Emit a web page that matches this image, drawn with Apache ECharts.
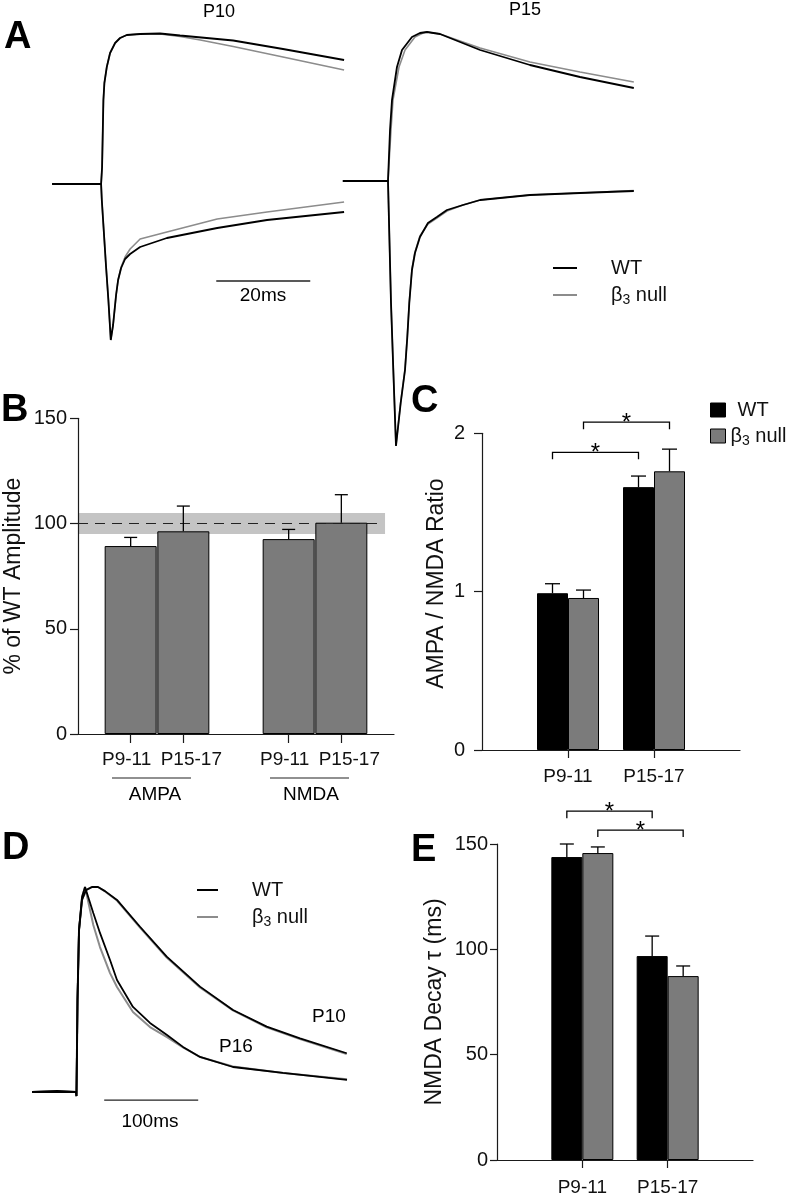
<!DOCTYPE html>
<html><head><meta charset="utf-8">
<script src="https://cdn.jsdelivr.net/npm/echarts@6/dist/echarts.min.js"></script>
<style>html,body{margin:0;padding:0;background:#fff}#chart{width:792px;height:1199px}</style>
</head><body><div id="chart"></div>
<script>
// ================= DATA =================
const ages = ['P9-11', 'P15-17'];
const receptors = ['AMPA', 'NMDA'];
const genotypes = ['WT', 'β3 null'];

// Panel A – example EPSC traces (time ms, current pA)
const p10UpperWT   = [[-10.4,0],[0,0],[0.21,34],[0.49,168],[0.7,202],[1.21,234],[1.91,262],[2.98,282],[4.04,292],[5.47,298],[8.3,300],[12.55,301],[16.8,297],[28.1,287],[38.7,270],[51.7,248]];
const p10UpperNull = [[-10.4,0],[0,0],[0.21,34],[0.49,168],[0.7,202],[1.21,234],[1.91,262],[2.98,282],[4.04,292],[5.47,298],[8.3,300],[12.55,300],[16.8,295],[21.1,288],[28.1,275],[38.7,254],[51.7,228]];
const p10LowerWT   = [[-10.4,0],[0,0],[0.15,-32],[1.06,-166],[1.55,-232],[2.06,-312],[2.55,-282],[3.19,-222],[3.62,-192],[4.26,-168],[5.1,-150],[6.17,-140],[8.3,-126],[14.0,-108],[24.7,-88],[35.3,-72],[51.7,-56]];
const p10LowerNull = [[-10.4,0],[0,0],[0.15,-32],[1.06,-166],[1.55,-232],[2.06,-312],[2.55,-282],[3.19,-222],[3.62,-192],[4.26,-166],[5.1,-146],[6.17,-130],[8.3,-110],[14.0,-96],[24.7,-70],[35.3,-56],[51.7,-36]];
const p15UpperWT   = [[-9.6,0],[0,0],[0.43,102],[0.85,162],[1.91,228],[2.98,262],[5.1,288],[6.8,296],[8.3,298],[11.06,294],[19.6,262],[30.2,232],[40.85,208],[52.3,186]];
const p15UpperNull = [[-9.6,0],[0,0],[0.64,102],[1.06,162],[2.34,228],[3.62,262],[5.74,288],[7.45,296],[8.3,298],[11.06,294],[19.6,266],[30.2,238],[40.85,218],[52.3,198]];
const p15LowerWT   = [[-9.6,0],[0,0],[0.64,-244],[1.13,-378],[1.7,-530],[2.7,-444],[3.62,-378],[4.11,-312],[4.53,-244],[5.1,-178],[5.74,-144],[6.8,-112],[8.5,-84],[10.4,-72],[12.55,-58],[15.96,-48],[19.6,-38],[30.2,-28],[40.85,-24],[52.3,-20]];
const p15LowerNull = [[-9.6,0],[0,0],[0.64,-244],[1.13,-378],[1.7,-528],[2.7,-442],[3.62,-376],[4.11,-310],[4.53,-242],[5.1,-176],[5.74,-142],[6.8,-110],[8.5,-86],[10.4,-74],[12.55,-60],[15.96,-48],[19.6,-38],[30.2,-28],[40.85,-24],[52.3,-19]];

// Panel B – β3 null amplitude as % of WT (AMPA P9-11, AMPA P15-17, NMDA P9-11, NMDA P15-17)
const ampPct    = [89.3, 96.3, 92.6, 100.4];
const ampPctSem = [4.1, 12.0, 4.6, 13.3];
const wtBand = [95, 105];
const wtRef = 100;

// Panel C – AMPA / NMDA ratio
const ratioWT      = [0.99, 1.66];
const ratioWTSem   = [0.06, 0.07];
const ratioNull    = [0.96, 1.76];
const ratioNullSem = [0.05, 0.14];
const sigC = [{from:0, to:1, genotype:0, level:1.88}, {from:0, to:1, genotype:1, level:2.07}];

// Panel D – normalised NMDA EPSCs (time ms, normalised amplitude)
const dP10WT   = [[-46.8,0],[-20,0.005],[0,0],[0.5,-0.02],[1.6,0.449],[3.2,0.79],[6.4,0.937],[10.6,0.985],[17,1.0],[23.4,1.0],[30.9,0.98],[43.6,0.937],[68.1,0.806],[96.5,0.66],[131.9,0.514],[167,0.4],[202.9,0.319],[238.3,0.262],[288,0.189]];
const dP10Null = [[-46.8,0],[-20,0.005],[0,0],[0.5,-0.02],[1.6,0.449],[3.2,0.79],[6.4,0.937],[10.6,0.985],[17,1.0],[23.4,1.0],[30.9,0.978],[43.6,0.934],[68.1,0.802],[96.5,0.656],[131.9,0.51],[167,0.398],[202.9,0.315],[238.3,0.258],[288,0.185]];
const dP16WT   = [[-46.8,0],[0,0],[0.5,-0.02],[1.6,0.449],[3.2,0.79],[6.4,0.951],[9.6,1.0],[18.4,0.873],[25.5,0.776],[36.2,0.644],[43.6,0.546],[60.6,0.415],[78.7,0.337],[96.8,0.278],[113.8,0.22],[131.9,0.171],[167,0.122],[220.2,0.093],[288.3,0.059]];
const dP16Null = [[-46.8,0],[0,0],[0.5,-0.02],[1.6,0.449],[3.2,0.79],[6.4,0.951],[9.6,1.0],[18.4,0.815],[25.5,0.707],[36.2,0.58],[43.6,0.512],[60.6,0.39],[78.7,0.317],[96.8,0.268],[113.8,0.218],[131.9,0.171],[167,0.124],[220.2,0.093],[288.3,0.062]];

// Panel E – NMDA decay tau (ms)
const tauWT      = [143.8, 96.8];
const tauWTSem   = [6.2, 9.5];
const tauNull    = [145.7, 87.3];
const tauNullSem = [2.9, 4.8];
const sigE = [{from:0, to:1, genotype:0, level:165.6}, {from:0, to:1, genotype:1, level:156.6}];

// scale bars (ms)
const scaleA = 20, scaleD = 100;

// ================= STYLE / BUILD =================
const FF = '"Liberation Sans", Arial, Helvetica, sans-serif';
const BLACK = '#000000', GREY_LINE = '#8c8c8c', GREY_BAR = '#7b7b7b', BAND = '#c4c4c4', AX = '#1a1a1a';

const chart = echarts.init(document.getElementById('chart'), null, {renderer: 'canvas'});

const pos = (g, a) => g * 3 + a + 1;              // B: x position for receptor g / age a
const bPos = ampPct.map((_, i) => pos(Math.floor(i / 2), i % 2));
const cPos = ages.map((_, i) => i + 1);

function hiddenAxes(grid, xmin, xmax, ymin, ymax) {
  return [
    {gridIndex: grid, type: 'value', min: xmin, max: xmax, show: false},
    {gridIndex: grid, type: 'value', min: ymin, max: ymax, show: false}
  ];
}
const axLine = {show: true, onZero: false, lineStyle: {color: AX, width: 1.2}};
const tickLbl = (fs, margin) => ({fontSize: fs, fontFamily: FF, color: '#111', margin: margin, interval: 0, hideOverlap: false});

const [ax0x, ax0y] = hiddenAxes(0, -13, 55, -560, 320);
const [ax1x, ax1y] = hiddenAxes(1, -13, 55, -560, 320);
const [ax4x, ax4y] = hiddenAxes(4, -50, 300, -0.2, 1.1);

const xAxes = [
  ax0x, ax1x,
  {gridIndex: 2, type: 'value', min: 0, max: 6, axisLine: axLine, splitLine: {show: false},
   axisTick: {show: true, customValues: bPos, length: 9, lineStyle: {color: AX, width: 1.2}},
   axisLabel: Object.assign(tickLbl(19, 16), {customValues: bPos,
     formatter: v => { const a = (Math.round(v) - 1) % 3; return '{a' + a + '|' + ages[a] + '}'; },
     rich: {a0: {fontSize: 19, fontFamily: FF, color: '#111', padding: [0, 8, 0, 0]},
            a1: {fontSize: 19, fontFamily: FF, color: '#111', padding: [0, 0, 0, 16]}}})},
  {gridIndex: 3, type: 'value', min: 0, max: 3, axisLine: axLine, splitLine: {show: false},
   axisTick: {show: true, customValues: cPos, length: 8, lineStyle: {color: AX, width: 1.2}},
   axisLabel: Object.assign(tickLbl(19, 17), {customValues: cPos, formatter: v => ages[Math.round(v) - 1]})},
  ax4x,
  {gridIndex: 5, type: 'value', min: 0, max: 3, axisLine: axLine, splitLine: {show: false},
   axisTick: {show: true, customValues: cPos, length: 8, lineStyle: {color: AX, width: 1.2}},
   axisLabel: Object.assign(tickLbl(19, 18), {customValues: cPos, formatter: v => ages[Math.round(v) - 1]})}
];
const nameStyle = {fontSize: 23, fontFamily: FF, color: '#111'};
const yAxes = [
  ax0y, ax1y,
  {gridIndex: 2, type: 'value', min: 0, max: 150, interval: 50, axisLine: axLine, splitLine: {show: false},
   axisTick: {show: true, length: 8, lineStyle: {color: AX, width: 1.2}}, axisLabel: tickLbl(20, 11),
   name: '% of WT Amplitude', nameLocation: 'middle', nameGap: 53, nameTextStyle: nameStyle},
  {gridIndex: 3, type: 'value', min: 0, max: 2, interval: 1, axisLine: axLine, splitLine: {show: false},
   axisTick: {show: true, length: 8, lineStyle: {color: AX, width: 1.2}}, axisLabel: tickLbl(20, 17),
   name: 'AMPA / NMDA Ratio', nameLocation: 'middle', nameGap: 34,
   nameTextStyle: Object.assign({}, nameStyle, {padding: [0, 0, 0, 16]})},
  ax4y,
  {gridIndex: 5, type: 'value', min: 0, max: 150, interval: 50, axisLine: axLine, splitLine: {show: false},
   axisTick: {show: true, length: 7, lineStyle: {color: AX, width: 1.2}}, axisLabel: tickLbl(20, 9),
   name: 'NMDA Decay τ (ms)', nameLocation: 'middle', nameGap: 51, nameTextStyle: nameStyle}
];

function trace(name, grid, data, color, w, z) {
  return {type: 'line', name: name, xAxisIndex: grid, yAxisIndex: grid, data: data, showSymbol: false,
          symbol: 'none', lineStyle: {color: color, width: w}, itemStyle: {color: color}, z: z, silent: true, animation: false};
}
function scaleBar(grid, x0, len, y) {
  return {type: 'line', name: 'scale', xAxisIndex: grid, yAxisIndex: grid, data: [[x0, y], [x0 + len, y]],
          showSymbol: false, symbol: 'none', lineStyle: {color: '#222', width: 1.3}, silent: true, animation: false};
}
function errSeries(grid, xs, vals, sems, offsetPx, capHalf) {
  return {type: 'custom', xAxisIndex: grid, yAxisIndex: grid, z: 4, silent: true, animation: false,
    encode: {x: 0, y: 1},
    data: vals.map((v, i) => [xs[i], v, sems[i]]),
    renderItem: (params, api) => {
      const x = api.value(0), v = api.value(1), e = api.value(2);
      const p0 = api.coord([x, v]), p1 = api.coord([x, v + e]);
      const cx = p0[0] + offsetPx;
      return {type: 'group', children: [
        {type: 'line', shape: {x1: cx, y1: p0[1], x2: cx, y2: p1[1]}, style: {stroke: '#000', lineWidth: 1.3}},
        {type: 'line', shape: {x1: cx - capHalf, y1: p1[1], x2: cx + capHalf, y2: p1[1]}, style: {stroke: '#000', lineWidth: 1.3}}
      ]};
    }};
}
function bracketSeries(grid, sig, halfBar, drop) {
  return {type: 'custom', xAxisIndex: grid, yAxisIndex: grid, z: 4, silent: true, animation: false, clip: false,
    encode: {x: 0, y: 3},
    data: sig.map(s => [s.from + 1, s.to + 1, s.genotype === 0 ? -1 : 1, s.level]),
    renderItem: (params, api) => {
      const a = api.coord([api.value(0), api.value(3)]), b = api.coord([api.value(1), api.value(3)]);
      const off = api.value(2) * halfBar;
      const x1 = a[0] + off, x2 = b[0] + off, y = a[1];
      return {type: 'group', children: [
        {type: 'polyline', shape: {points: [[x1, y + drop], [x1, y], [x2, y], [x2, y + drop]]}, style: {stroke: '#000', lineWidth: 1.3, fill: null}},
        {type: 'text', x: (x1 + x2) / 2, y: y + 1, style: {text: '*', fontSize: 24, fontFamily: FF, fill: '#000', align: 'center', verticalAlign: 'middle'}}
      ]};
    }};
}
function groupBars(name, grid, xs, vals, color) {
  return {type: 'bar', name: name, xAxisIndex: grid, yAxisIndex: grid, data: vals.map((v, i) => [xs[i], v]),
          barWidth: 31, barGap: '0%', itemStyle: {color: color, borderColor: '#000', borderWidth: 1}, z: 2, silent: true, animation: false};
}

const series = [
  // A – P10
  trace('β3 null', 0, p10UpperNull, GREY_LINE, 1.6, 2), trace('β3 null', 0, p10LowerNull, GREY_LINE, 1.6, 2),
  trace('WT', 0, p10UpperWT, BLACK, 1.8, 3), trace('WT', 0, p10LowerWT, BLACK, 1.8, 3),
  scaleBar(0, 24.5, scaleA, -194),
  // A – P15
  trace('β3 null', 1, p15UpperNull, GREY_LINE, 1.6, 2), trace('β3 null', 1, p15LowerNull, GREY_LINE, 1.6, 2),
  trace('WT', 1, p15UpperWT, BLACK, 1.8, 3), trace('WT', 1, p15LowerWT, BLACK, 1.8, 3),
  // B
  {type: 'bar', name: '% of WT', xAxisIndex: 2, yAxisIndex: 2, data: ampPct.map((v, i) => [bPos[i], v]),
   barWidth: 52, itemStyle: {color: GREY_BAR, borderColor: '#000', borderWidth: 1}, z: 2, silent: true, animation: false,
   markArea: {silent: true, z: 0, itemStyle: {color: BAND, opacity: 1}, data: [[{coord: [0, wtBand[0]]}, {coord: [5.83, wtBand[1]]}]]},
   markLine: {silent: true, z: 1, symbol: 'none', label: {show: false}, lineStyle: {color: '#222', type: [10, 7], width: 1.2},
              data: [[{coord: [0, wtRef]}, {coord: [5.8, wtRef]}]]}},
  errSeries(2, bPos, ampPct, ampPctSem, 0, 6.5),
  // C
  groupBars('WT', 3, cPos, ratioWT, BLACK), groupBars('β3 null', 3, cPos, ratioNull, GREY_BAR),
  errSeries(3, cPos, ratioWT, ratioWTSem, -15.5, 7.5), errSeries(3, cPos, ratioNull, ratioNullSem, 15.5, 7.5),
  bracketSeries(3, sigC, 15.5, 7),
  // D
  trace('β3 null', 4, dP10Null, GREY_LINE, 2.0, 2), trace('β3 null', 4, dP16Null, GREY_LINE, 2.0, 2),
  trace('WT', 4, dP10WT, BLACK, 1.8, 3), trace('WT', 4, dP16WT, BLACK, 1.8, 3),
  scaleBar(4, 30, scaleD, -0.04),
  // E
  groupBars('WT', 5, cPos, tauWT, BLACK), groupBars('β3 null', 5, cPos, tauNull, GREY_BAR),
  errSeries(5, cPos, tauWT, tauWTSem, -15.5, 7), errSeries(5, cPos, tauNull, tauNullSem, 15.5, 7),
  bracketSeries(5, sigE, 15.5, 7)
];

const legendRich = {n: {fontSize: 20, fontFamily: FF, color: '#111', lineHeight: 24},
                    s: {fontSize: 14, fontFamily: FF, color: '#111', lineHeight: 10, verticalAlign: 'bottom'}};
const legendFmt = name => name === genotypes[1] ? '{n|β}{s|3}{n| null}' : '{n|' + name + '}';
function lineLegend(left, top, w, gap) {
  return {orient: 'vertical', left: left, top: top, padding: 0, itemWidth: w, itemHeight: 2, itemGap: gap, selectedMode: false,
          icon: 'rect', formatter: legendFmt, textStyle: {padding: [0, 0, 0, 29], rich: legendRich},
          data: [{name: genotypes[0], itemStyle: {color: BLACK, borderWidth: 0}},
                 {name: genotypes[1], itemStyle: {color: GREY_LINE, borderWidth: 0}}]};
}
const legends = [
  lineLegend(553, 258, 24, 7),
  {orient: 'vertical', left: 710, top: 400, padding: 0, itemWidth: 15, itemHeight: 14, itemGap: 6, selectedMode: false,
   icon: 'rect', formatter: legendFmt, textStyle: {padding: [0, 0, 0, 7], rich: legendRich},
   data: [{name: genotypes[0], itemStyle: {color: BLACK, borderColor: '#000', borderWidth: 1}},
          {name: genotypes[1], itemStyle: {color: GREY_BAR, borderColor: '#000', borderWidth: 1},
           textStyle: {padding: [0, 0, 0, 0], rich: legendRich}}]},
  lineLegend(197, 880, 21, 7)
];

const txt = (x, y, t, fs, opts) => Object.assign({type: 'text', x: x, y: y, silent: true,
  style: Object.assign({text: t, fontSize: fs, fontFamily: FF, fill: '#000', align: 'center', verticalAlign: 'middle'}, (opts || {}))});
const hline = (x1, x2, y) => ({type: 'line', silent: true, shape: {x1: x1, y1: y, x2: x2, y2: y}, style: {stroke: '#222', lineWidth: 1.1}});

const graphics = [
  txt(4, 38, 'A', 38, {fontWeight: 'bold', align: 'left'}),
  txt(219, 12, 'P10', 18), txt(525, 10, 'P15', 18),
  txt(263, 296, scaleA + 'ms', 19),
  txt(1, 411, 'B', 38, {fontWeight: 'bold', align: 'left'}),
  hline(112, 191, 778), hline(270, 349, 778),
  txt(155, 795, receptors[0], 19), txt(311, 795, receptors[1], 19),
  txt(411, 402, 'C', 38, {fontWeight: 'bold', align: 'left'}),
  txt(2, 849, 'D', 38, {fontWeight: 'bold', align: 'left'}),
  txt(312, 1017, 'P10', 19, {align: 'left'}), txt(219, 1047, 'P16', 19, {align: 'left'}),
  txt(150, 1122, scaleD + 'ms', 19),
  txt(411, 851, 'E', 38, {fontWeight: 'bold', align: 'left'})
];

chart.setOption({
  animation: false,
  backgroundColor: '#ffffff',
  textStyle: {fontFamily: FF},
  grid: [
    {left: 40, top: 24, width: 319.6, height: 440, outerBoundsMode: 'none'},
    {left: 326.9, top: 21, width: 319.6, height: 440, outerBoundsMode: 'none'},
    {left: 78, top: 418.3, width: 316, height: 315.7, outerBoundsMode: 'none'},
    {left: 482, top: 433.3, width: 258, height: 316.7, outerBoundsMode: 'none'},
    {left: 29, top: 866.5, width: 329, height: 266.5, outerBoundsMode: 'none'},
    {left: 497, top: 844, width: 256, height: 316, outerBoundsMode: 'none'}
  ],
  xAxis: xAxes,
  yAxis: yAxes,
  legend: legends,
  series: series,
  graphic: graphics
});
</script></body></html>
